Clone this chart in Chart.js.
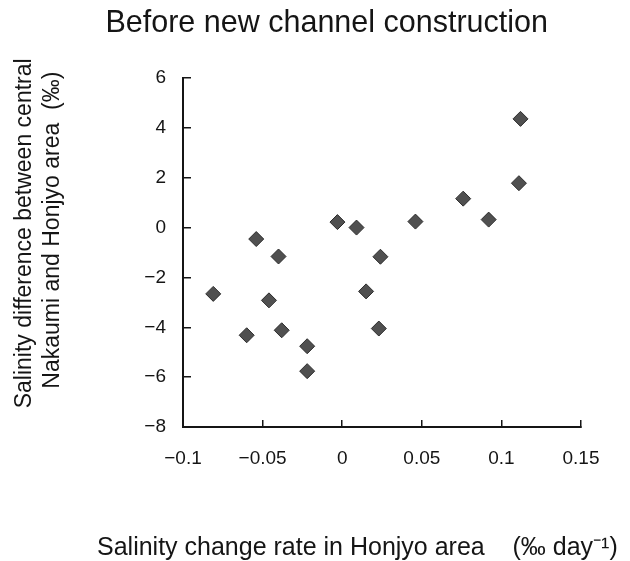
<!DOCTYPE html>
<html>
<head>
<meta charset="utf-8">
<script src="https://cdn.jsdelivr.net/npm/chart.js@4/dist/chart.umd.min.js"></script>
<style>
  html, body { margin: 0; padding: 0; background: #ffffff; }
  #wrap { width: 630px; height: 561px; }
</style>
</head>
<body>
<div id="wrap"><canvas id="c" width="630" height="561"></canvas></div>
<script>
// ---- data ----
const rateHonjyo = [-0.081, -0.054, -0.040, -0.046, -0.060, -0.038, -0.022, -0.022, -0.003, 0.009, 0.024, 0.015, 0.023, 0.046, 0.076, 0.092, 0.111, 0.112];
const salinityDiff = [-2.66, -0.46, -1.16, -2.92, -4.32, -4.12, -4.76, -5.76, 0.22, 0.0, -1.17, -2.56, -4.05, 0.24, 1.16, 0.32, 1.78, 4.36];
const xTickLabels = ['\u22120.1', '\u22120.05', '0', '0.05', '0.1', '0.15'];
const yTickLabels = ['\u22128', '\u22126', '\u22124', '\u22122', '0', '2', '4', '6'];
const chartTitle = ' Before new channel construction';
const yTitleLines = ['      Salinity difference between central', '       Nakaumi and Honjyo area  (\u2030)'];
const xTitleText = 'Salinity change rate in Honjyo area    (\u2030 day\u207B\u00B9)';

const points = rateHonjyo.map((x, i) => ({ x: x, y: salinityDiff[i] }));

const FONT = '"Liberation Sans", Arial, sans-serif';
const INK = '#151515';

new Chart(document.getElementById('c'), {
  type: 'scatter',
  data: {
    datasets: [{
      data: points,
      pointStyle: 'rectRot',
      pointRadius: 7.5,
      pointHoverRadius: 7.5,
      backgroundColor: '#505050',
      borderColor: '#2c2c2c',
      borderWidth: 1
    }]
  },
  options: {
    responsive: false,
    animation: false,
    devicePixelRatio: 1,
    layout: { padding: { left: 97, right: 0, top: 0, bottom: 0 } },
    plugins: {
      legend: { display: false },
      tooltip: { enabled: false },
      title: {
        display: true,
        align: 'start',
        text: chartTitle,
        color: INK,
        font: { family: FONT, size: 30.5, weight: 'normal', lineHeight: 1.2 },
        padding: { top: 5, bottom: 36.4 }
      },
      subtitle: {
        display: true,
        position: 'bottom',
        align: 'start',
        text: xTitleText,
        color: INK,
        font: { family: FONT, size: 25, weight: 'normal', lineHeight: 1 },
        padding: { top: 0, bottom: 0 }
      }
    },
    scales: {
      x: {
        type: 'linear',
        position: 'bottom',
        min: -0.1,
        max: 0.15,
        afterFit: s => { s.height = 109; },
        ticks: {
          stepSize: 0.05,
          padding: 27,
          color: INK,
          maxRotation: 0,
          font: { family: FONT, size: 19 },
          callback: (v, i) => xTickLabels[i]
        },
        grid: {
          display: true,
          drawOnChartArea: false,
          drawTicks: true,
          tickLength: -7,
          color: INK,
          lineWidth: 1.5
        },
        border: { display: true, color: INK, width: 2 },
        title: { display: false }
      },
      y: {
        type: 'linear',
        position: 'left',
        min: -8,
        max: 6,
        afterFit: s => { s.width = 86; },
        ticks: {
          stepSize: 2,
          padding: 25,
          color: INK,
          font: { family: FONT, size: 19 },
          callback: (v, i) => yTickLabels[i]
        },
        grid: {
          display: true,
          drawOnChartArea: false,
          drawTicks: true,
          tickLength: -8,
          color: INK,
          lineWidth: 1.5
        },
        border: { display: true, color: INK, width: 2 },
        title: {
          display: true,
          text: yTitleLines,
          color: INK,
          font: { family: FONT, size: 23, lineHeight: '28px' },
          padding: { top: -86, bottom: 0 }
        }
      },
      rightGap: {
        type: 'linear',
        axis: 'y',
        position: 'right',
        display: true,
        afterFit: s => { s.width = 49; },
        ticks: { display: false },
        grid: { display: false, drawTicks: false },
        border: { display: false },
        title: { display: false }
      }
    }
  }
});
</script>
</body>
</html>
